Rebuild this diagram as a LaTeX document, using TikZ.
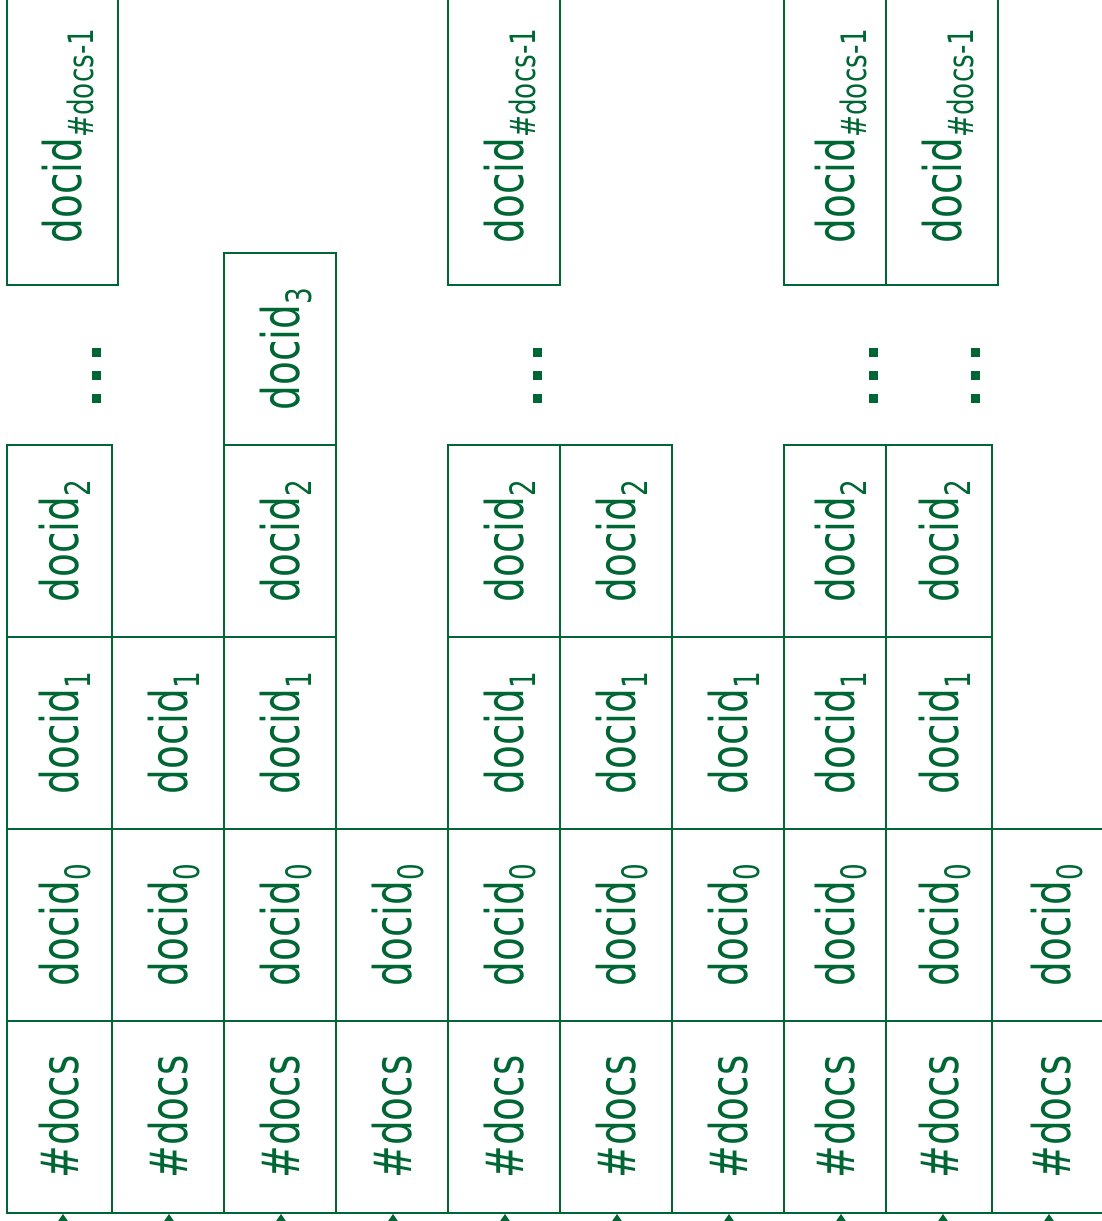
\documentclass[tikz,border=0pt]{standalone}
\usepackage{fontspec}
\setmainfont{DejaVu Sans}
\usetikzlibrary{arrows.meta}
\definecolor{dg}{RGB}{0,102,51}
\newcommand{\dl}[1]{\scalebox{0.75}[1]{\fontsize{52}{52}\selectfont docid\smash{\raisebox{-12pt}{\fontsize{35}{35}\selectfont #1}}}}
\newcommand{\nd}{\scalebox{0.75}[1]{\fontsize{52}{52}\selectfont \#docs}}
\newcommand{\mkcell}[6]{\node[cell, minimum width={(#4)-(#2)}, minimum height={(#5)-(#3)}] (#1) at ({((#2)+(#4))/2},{((#3)+(#5))/2}) {\rotatebox{90}{#6}};}
\begin{document}
\begin{tikzpicture}[x=1pt,y=-1pt,
  cell/.style={draw=dg, line width=1.8pt, rectangle, inner sep=0pt, text=dg},
  dotmark/.style={fill=dg, minimum size=9pt, inner sep=0pt, rectangle},
  tip/.style={draw=dg, line width=1.8pt, -{Triangle[width=9pt,length=7pt]}, fill=dg}]
\useasboundingbox (0,0) rectangle (1102,1221);
% column 1
\mkcell{c1a}{7}{1021}{112}{1213}{\nd}
\mkcell{c1b}{7}{829}{112}{1021}{\dl{0}}
\mkcell{c1c}{7}{637}{112}{829}{\dl{1}}
\mkcell{c1d}{7}{445}{112}{637}{\dl{2}}
\mkcell{c1e}{7}{-13}{118}{285}{\dl{\#docs-1}}
% column 2
\mkcell{c2a}{112}{1021}{224}{1213}{\nd}
\mkcell{c2b}{112}{829}{224}{1021}{\dl{0}}
\mkcell{c2c}{112}{637}{224}{829}{\dl{1}}
% column 3
\mkcell{c3a}{224}{1021}{336}{1213}{\nd}
\mkcell{c3b}{224}{829}{336}{1021}{\dl{0}}
\mkcell{c3c}{224}{637}{336}{829}{\dl{1}}
\mkcell{c3d}{224}{445}{336}{637}{\dl{2}}
\mkcell{c3e}{224}{253}{336}{445}{\dl{3}}
% column 4
\mkcell{c4a}{336}{1021}{448}{1213}{\nd}
\mkcell{c4b}{336}{829}{448}{1021}{\dl{0}}
% column 5
\mkcell{c5a}{448}{1021}{560}{1213}{\nd}
\mkcell{c5b}{448}{829}{560}{1021}{\dl{0}}
\mkcell{c5c}{448}{637}{560}{829}{\dl{1}}
\mkcell{c5d}{448}{445}{560}{637}{\dl{2}}
\mkcell{c5e}{448}{-13}{560}{285}{\dl{\#docs-1}}
% column 6
\mkcell{c6a}{560}{1021}{672}{1213}{\nd}
\mkcell{c6b}{560}{829}{672}{1021}{\dl{0}}
\mkcell{c6c}{560}{637}{672}{829}{\dl{1}}
\mkcell{c6d}{560}{445}{672}{637}{\dl{2}}
% column 7
\mkcell{c7a}{672}{1021}{784}{1213}{\nd}
\mkcell{c7b}{672}{829}{784}{1021}{\dl{0}}
\mkcell{c7c}{672}{637}{784}{829}{\dl{1}}
% column 8
\mkcell{c8a}{784}{1021}{886}{1213}{\nd}
\mkcell{c8b}{784}{829}{886}{1021}{\dl{0}}
\mkcell{c8c}{784}{637}{886}{829}{\dl{1}}
\mkcell{c8d}{784}{445}{886}{637}{\dl{2}}
\mkcell{c8e}{784}{-13}{886}{285}{\dl{\#docs-1}}
% column 9
\mkcell{c9a}{886}{1021}{992}{1213}{\nd}
\mkcell{c9b}{886}{829}{992}{1021}{\dl{0}}
\mkcell{c9c}{886}{637}{992}{829}{\dl{1}}
\mkcell{c9d}{886}{445}{992}{637}{\dl{2}}
\mkcell{c9e}{886}{-13}{998}{285}{\dl{\#docs-1}}
% column 10
\mkcell{c10a}{992}{1021}{1110}{1213}{\nd}
\mkcell{c10b}{992}{829}{1110}{1021}{\dl{0}}
% ellipsis marks
\foreach \x/\n in {96/1,537/5,873/8,975/9}{
  \node[dotmark] (d\n a) at (\x,352) {};
  \node[dotmark] (d\n b) at (\x,375) {};
  \node[dotmark] (d\n c) at (\x,398) {};
}
% arrows from below
\foreach \x/\n in {63/1,169/2,281/3,393/4,505/5,617/6,729/7,841/8,943/9,1049/10}{
  \coordinate (ar\n) at (\x,1260);
  \draw[tip] (ar\n) -- (ar\n |- c\n a.south);
}
\end{tikzpicture}
\end{document}
